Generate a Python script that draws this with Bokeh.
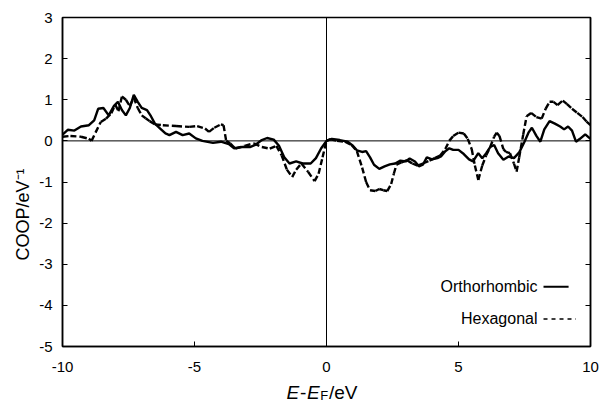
import math
from bokeh.plotting import figure
from bokeh.layouts import column
from bokeh.models import Span, Label, LinearAxis, FixedTicker, Range1d
from bokeh.embed import file_html
from bokeh.resources import INLINE

# ---- data ----
ortho_x = [-10, -9.8, -9.55, -9.3, -9.0, -8.8, -8.65, -8.45, -8.25, -8.05,
           -7.9, -7.75, -7.6, -7.45, -7.3, -7.15, -7.0, -6.8, -6.65, -6.5,
           -6.3, -6.1, -5.95, -5.7, -5.45, -5.2, -4.95, -4.7, -4.3, -4.0,
           -3.7, -3.5, -3.2, -2.9, -2.7, -2.45, -2.25, -2.0, -1.8, -1.6,
           -1.4, -1.15, -0.9, -0.6, -0.4, -0.2, 0.0, 0.2, 0.5, 0.8,
           1.0, 1.15, 1.35, 1.5, 1.65, 1.8, 2.0, 2.2, 2.4, 2.6,
           2.8, 3.0, 3.15, 3.35, 3.5, 3.65, 3.8, 4.0, 4.2, 4.35,
           4.5, 4.65, 4.8, 5.0, 5.2, 5.4, 5.55, 5.75, 5.9, 6.05,
           6.2, 6.35, 6.5, 6.7, 6.9, 7.1, 7.3, 7.5, 7.65, 7.78,
           7.95, 8.1, 8.25, 8.45, 8.65, 8.85, 9.0, 9.15, 9.3, 9.45,
           9.6, 9.8, 10.0]
ortho_y = [0.15, 0.27, 0.25, 0.35, 0.38, 0.5, 0.78, 0.8, 0.62, 0.85,
           0.95, 0.75, 0.62, 0.8, 1.12, 0.95, 0.8, 0.75, 0.6, 0.42,
           0.3, 0.18, 0.14, 0.22, 0.14, 0.18, 0.06, 0.0, -0.05, -0.02,
           -0.08, -0.18, -0.15, -0.15, -0.1, 0.02, 0.07, 0.03, -0.12, -0.4,
           -0.55, -0.5, -0.55, -0.55, -0.42, -0.18, 0.0, 0.05, 0.02, -0.02,
           -0.12, -0.23, -0.27, -0.25, -0.4, -0.58, -0.68, -0.62, -0.57, -0.55,
           -0.48, -0.5, -0.43, -0.5, -0.62, -0.58, -0.4, -0.45, -0.42, -0.37,
           -0.25, -0.18, -0.22, -0.22, -0.32, -0.45, -0.5, -0.3, -0.42, -0.3,
           -0.15, -0.1, -0.3, -0.46, -0.38, -0.42, -0.28, -0.02, 0.2, 0.32,
           0.12, -0.02, 0.28, 0.48, 0.42, 0.35, 0.28, 0.35, 0.25, -0.02,
           0.05, 0.16, 0.05]

hex_x = [-10, -9.7, -9.3, -9.0, -8.9, -8.75, -8.55, -8.35, -8.15, -8.0,
         -7.88, -7.75, -7.6, -7.45, -7.3, -7.15, -7.0, -6.85, -6.7, -6.5,
         -6.2, -5.7, -5.2, -4.9, -4.6, -4.45, -4.25, -4.0, -3.9, -3.8,
         -3.65, -3.45, -3.1, -2.75, -2.45, -2.15, -1.9, -1.7, -1.5, -1.3,
         -1.15, -0.95, -0.7, -0.45, -0.3, -0.15, 0.0, 0.15, 0.4, 0.7,
         0.95, 1.15, 1.35, 1.5, 1.65, 1.85, 2.0, 2.15, 2.3, 2.45,
         2.55, 2.65, 2.85, 3.05, 3.25, 3.45, 3.65, 3.9, 4.1, 4.3,
         4.5, 4.65, 4.8, 5.0, 5.2, 5.35, 5.5, 5.62, 5.75, 5.9,
         6.05, 6.2, 6.35, 6.45, 6.55, 6.7, 6.8, 6.95, 7.1, 7.2,
         7.3, 7.45, 7.58, 7.75, 7.95, 8.15, 8.3, 8.45, 8.6, 8.75,
         8.95, 9.1, 9.3, 9.5, 9.7, 9.85, 10.0]
hex_y = [0.1, 0.12, 0.1, 0.05, 0.0, 0.2, 0.46, 0.54, 0.67, 0.88,
         0.72, 1.08, 1.0, 0.85, 1.05, 0.8, 0.62, 0.55, 0.48, 0.4,
         0.38, 0.36, 0.34, 0.36, 0.3, 0.22, 0.32, 0.4, 0.38, 0.0,
         -0.06, -0.19, -0.12, -0.06, -0.15, -0.19, -0.12, -0.35, -0.7, -0.88,
         -0.7, -0.55, -0.75, -0.98, -0.8, -0.4, 0.0, 0.04, 0.0, -0.02,
         -0.1, -0.25, -0.65, -1.0, -1.2, -1.22, -1.17, -1.2, -1.22, -1.05,
         -0.8, -0.58, -0.52, -0.47, -0.55, -0.6, -0.55, -0.48, -0.42, -0.36,
         -0.2, 0.0, 0.12, 0.2, 0.18, 0.05, -0.2, -0.6, -0.95, -0.6,
         -0.35, -0.15, 0.1, 0.2, 0.12, -0.2, -0.27, -0.3, -0.55, -0.75,
         -0.4, 0.15, 0.6, 0.68, 0.58, 0.54, 0.78, 0.95, 0.95, 0.87,
         0.98, 0.9, 0.78, 0.68, 0.58, 0.47, 0.38]

x_ticks = [-10, -5, 0, 5, 10]
y_ticks = [-5, -4, -3, -2, -1, 0, 1, 2, 3]
series_names = ["Orthorhombic", "Hexagonal"]
y_title = "COOP/eV\u207b\u00b9"

FONT = "Liberation Sans"

p = figure(width=602, height=378, x_range=Range1d(-10, 10), y_range=Range1d(-5, 3),
           output_backend="svg", toolbar_location=None,
           min_border_left=62, min_border_right=12, min_border_top=17, min_border_bottom=32)
p.grid.visible = False
p.background_fill_color = "white"
p.border_fill_color = "white"
p.outline_line_color = "black"
p.outline_line_width = 1.5

for ax, ticks in ((p.xaxis[0], x_ticks), (p.yaxis[0], y_ticks)):
    ax.ticker = FixedTicker(ticks=ticks)
    ax.major_label_overrides = {t: str(t) for t in ticks}
    ax.axis_line_color = "black"
    ax.axis_line_width = 1.5
    ax.major_tick_in = 5
    ax.major_tick_out = 0
    ax.major_tick_line_color = "black"
    ax.minor_tick_line_color = None
    ax.major_label_text_font = FONT
    ax.major_label_text_font_size = "15px"
    ax.major_label_text_color = "black"
p.xaxis[0].major_label_standoff = 15
p.yaxis[0].major_label_standoff = 10

# y title as the axis label (padded with no-break spaces to sit lower, as in the reference)
p.yaxis[0].axis_label = y_title + "\u00a0" * 13
p.yaxis[0].axis_label_text_font = FONT
p.yaxis[0].axis_label_text_font_size = "18px"
p.yaxis[0].axis_label_text_font_style = "normal"
p.yaxis[0].axis_label_text_color = "black"
p.yaxis[0].axis_label_standoff = 3

rax = LinearAxis(ticker=FixedTicker(ticks=y_ticks), major_tick_in=5, major_tick_out=0,
                 axis_line_color="black", axis_line_width=1.5,
                 minor_tick_line_color=None, major_label_standoff=0,
                 major_label_overrides={t: "" for t in y_ticks})
p.add_layout(rax, "right")

# zero lines
p.add_layout(Span(location=0, dimension="width", line_color="black", line_width=1))
p.add_layout(Span(location=0, dimension="height", line_color="black", line_width=1))

# curves
p.line(ortho_x, ortho_y, line_color="black", line_width=2.4)
p.segment(x0=hex_x[:-1], y0=hex_y[:-1], x1=hex_x[1:], y1=hex_y[1:],
          line_color="black", line_width=2.4, line_dash="6 3")

# legend (text at left, sample at right)
p.add_layout(Label(x=10, y=-3.55, x_offset=-53, text=series_names[0], text_align="right",
                   text_baseline="middle", text_font=FONT, text_font_size="16px",
                   text_color="black"))
p.add_layout(Label(x=10, y=-4.33, x_offset=-53, text=series_names[1], text_align="right",
                   text_baseline="middle", text_font=FONT, text_font_size="16px",
                   text_color="black"))
p.line([8.22, 9.17], [-3.55, -3.55], line_color="black", line_width=2)
p.line([8.22, 9.45], [-4.33, -4.33], line_color="black", line_width=1.5, line_dash="4 4")

# x title strip: E-E_F/eV (italic E, subscript F)
pb = figure(width=602, height=24, x_range=p.x_range, y_range=Range1d(0, 24),
            output_backend="svg", toolbar_location=None, x_axis_type=None, y_axis_type=None,
            min_border_left=62, min_border_right=12, min_border_top=0, min_border_bottom=0)
pb.grid.visible = False
pb.outline_line_color = None
parts = [("E", -40, "italic", "19px", 10), ("-", -26.5, "normal", "19px", 10),
         ("E", -19.5, "italic", "19px", 10), ("F", -6.3, "normal", "13px", 7),
         ("/eV", 2.5, "normal", "19px", 10)]
for txt, xo, st, sz, yy in parts:
    pb.add_layout(Label(x=0, y=yy, x_offset=xo, text=txt, text_align="left",
                        text_baseline="alphabetic", text_font=FONT, text_font_style=st,
                        text_font_size=sz, text_color="black"))

layout = column(p, pb, spacing=0)
open("out.html", "w").write(file_html(layout, INLINE))
